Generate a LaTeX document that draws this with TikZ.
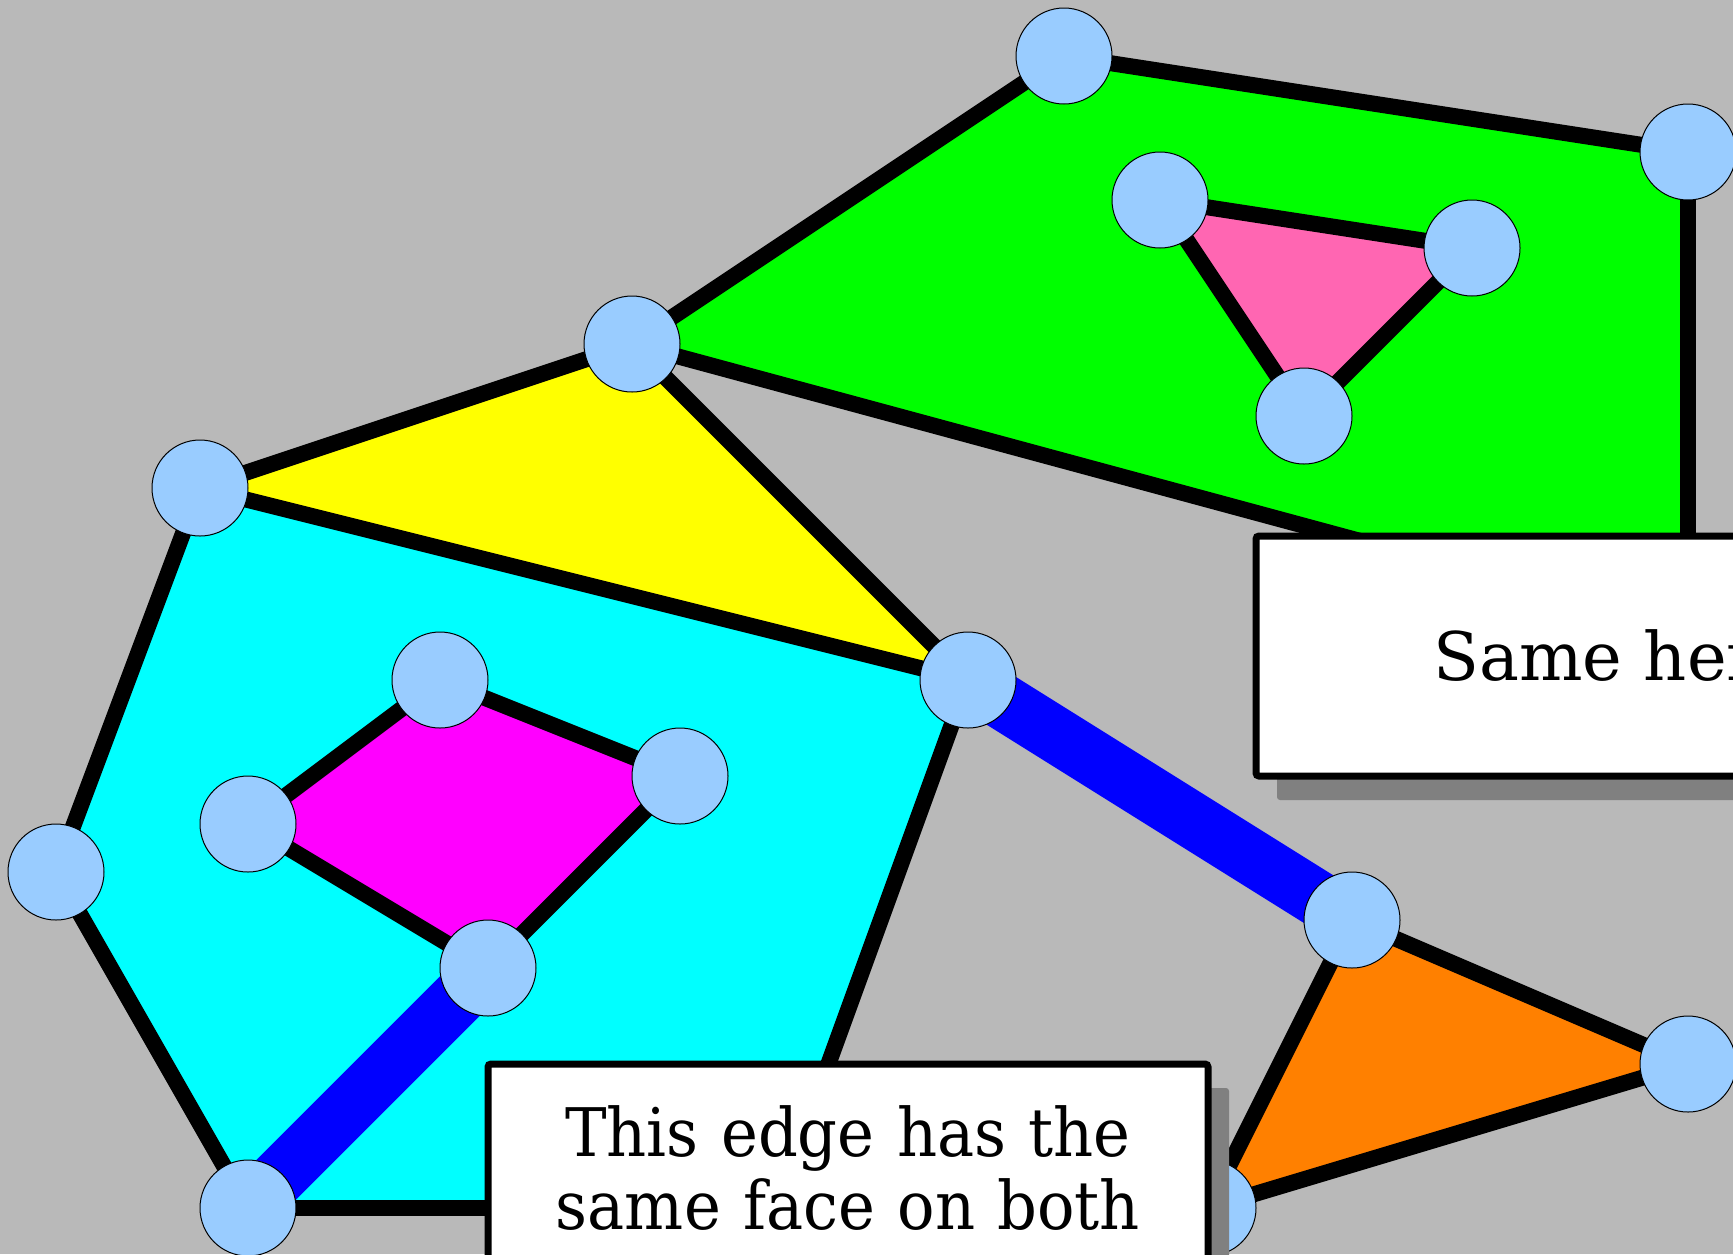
\documentclass[tikz,border=0pt]{standalone}
\usepackage{fontspec}
\setmainfont{DejaVu Serif}
\newfontfamily\narrowserif[FakeStretch=0.93]{DejaVu Serif}
\usetikzlibrary{shadows}
\definecolor{bggray}{RGB}{185,185,185}
\definecolor{vertexblue}{RGB}{153,204,255}
\definecolor{facegreen}{RGB}{0,255,0}
\definecolor{faceyellow}{RGB}{255,255,0}
\definecolor{facecyan}{RGB}{0,255,255}
\definecolor{facemagenta}{RGB}{255,0,255}
\definecolor{facepink}{RGB}{255,102,178}
\definecolor{faceorange}{RGB}{255,128,0}
\definecolor{bridgeblue}{RGB}{0,0,255}
\definecolor{shadowgray}{RGB}{128,128,128}

\begin{document}
\begin{tikzpicture}[x=24pt, y=-24pt,
  edge/.style={line width=8pt},
  bridge/.style={line width=28pt, bridgeblue},
  vertex/.style={circle, draw=black, line width=0.5pt, fill=vertexblue, minimum size=48pt, inner sep=0pt},
  notebox/.style={draw, line width=3.5pt, fill=white, rounded corners=1.5pt, outer sep=0pt,
    font=\fontsize{33.5}{36.5}\selectfont,
    drop shadow={shadow xshift=10.5pt, shadow yshift=-12pt, draw=none, fill=shadowgray, opacity=1}}]
  % Frame and background
  \useasboundingbox (-0.1667,-0.1667) rectangle (35.9375,25.9583);
  \clip (-0.1667,-0.1667) rectangle (35.9375,25.9583);
  \fill[bggray] (-0.1667,-0.1667) rectangle (35.9375,25.9583);
  % Vertex positions
  \foreach \name/\x/\y in {top/22/1, topright/35/3, hub/13/7, ta/24/4, tb/30.5/5, tc/27/8.5,
      left/4/10, cut/20/14, qa/9/14, qb/14/16, qc/5/17, far/1/18, qd/10/20, corner/5/25,
      ora/28/19, orb/35/22, orc/25/25, gh/35/12.95, ch/16/25} {
    \coordinate (\name) at (\x,\y);
  }
  % Faces
  \fill[facegreen] (hub) -- (top) -- (topright) -- (gh) -- cycle;
  \fill[facepink] (ta) -- (tb) -- (tc) -- cycle;
  \fill[faceyellow] (left) -- (hub) -- (cut) -- cycle;
  \fill[facecyan] (left) -- (cut) -- (ch) -- (corner) -- (far) -- cycle;
  \fill[facemagenta] (qa) -- (qb) -- (qd) -- (qc) -- cycle;
  \fill[faceorange] (ora) -- (orb) -- (orc) -- cycle;
  % Edges
  \foreach \a/\b in {hub/top, top/topright, topright/gh, gh/hub, ta/tb, tb/tc, tc/ta,
      left/hub, hub/cut, cut/left, cut/ch, ch/corner, corner/far, far/left,
      qa/qb, qb/qd, qd/qc, qc/qa, ora/orb, orb/orc, orc/ora} {
    \draw[edge] (\a) -- (\b);
  }
  % Edges with the same face on both sides
  \draw[bridge] (qd) -- (corner);
  \draw[bridge] (cut) -- (ora);
  % Vertices
  \foreach \v in {top, topright, hub, ta, tb, tc, left, cut, qa, qb, qc, far, qd, corner, ora, orb, orc} {
    \node[vertex] (n-\v) at (\v) {};
  }
  % Notes
  \node[notebox, minimum width=360pt, minimum height=120pt] (samenote) at (33.5,13.5) {Same here};
  \node[notebox, font=\narrowserif\fontsize{33.5}{36.5}\selectfont, anchor=north west,
    minimum width=360pt, text width=324pt,
    align=center, inner xsep=18pt, inner ysep=21pt] (edgenote) at (10,22)
    {This edge has the\\ same face on both};
\end{tikzpicture}
\end{document}
